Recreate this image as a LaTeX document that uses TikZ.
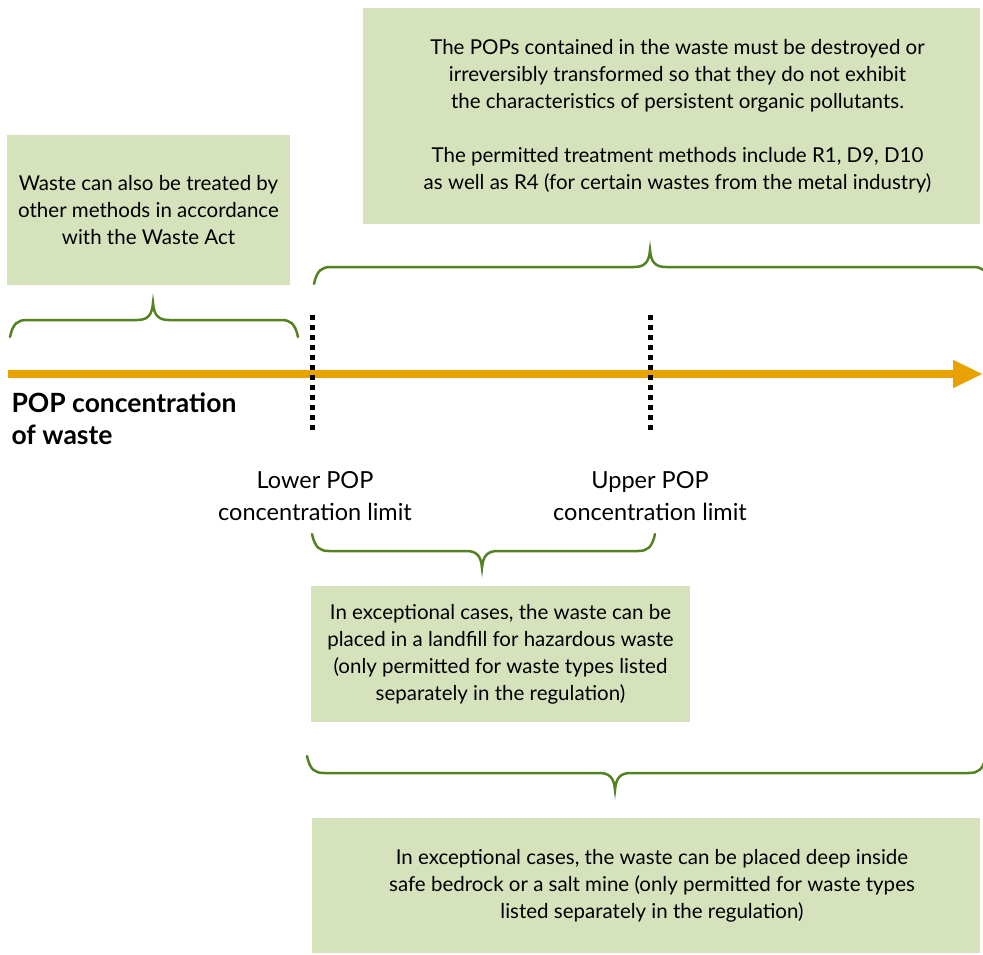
\documentclass[tikz,border=0pt]{standalone}
\usepackage{fontspec}
\setmainfont{Lato}
\usetikzlibrary{arrows.meta}

\definecolor{boxgreen}{RGB}{214,226,188}
\definecolor{bracegreen}{RGB}{84,130,35}
\definecolor{axisorange}{RGB}{232,162,0}

% curly bracket: left x, right x, tip x, end y, direction (-1 up, 1 down)
\newcommand{\popbrace}[5]{%
  \draw[curly] (#1,#4) .. controls ({#1+3},{#4+14*(#5)}) and ({#1+8},{#4+17*(#5)}) .. ({#1+17},{#4+17*(#5)})
    -- ({#3-16},{#4+17*(#5)}) .. controls ({#3-6},{#4+17*(#5)}) and ({#3-1},{#4+21*(#5)}) .. (#3,{#4+34*(#5)})
    .. controls ({#3+1},{#4+21*(#5)}) and ({#3+6},{#4+17*(#5)}) .. ({#3+16},{#4+17*(#5)})
    -- ({#2-17},{#4+17*(#5)}) .. controls ({#2-8},{#4+17*(#5)}) and ({#2-3},{#4+14*(#5)}) .. (#2,#4);}

\tikzset{
  infobox/.style={fill=boxgreen, inner sep=0pt, align=center, font=\fontsize{20.5}{27}\selectfont},
  infotext/.style={inner sep=0pt, align=center, font=\fontsize{20.5}{27}\selectfont},
  curly/.style={draw=bracegreen, line width=2.5pt, line cap=round},
  limitline/.style={line width=5pt, dash pattern=on 5pt off 5pt},
  limitlabel/.style={align=center, font=\fontsize{23.5}{32}\selectfont},
}

\begin{document}
\begin{tikzpicture}[x=1pt,y=-1pt]
\useasboundingbox (0,0) rectangle (983,955);
\clip (0,0) rectangle (983,955);

% Boxes with the treatment rules.
\node[infobox, minimum width=617pt, minimum height=216pt] (destroybox) at (671.5,116) {};
\node[infotext] (destroy) at ([xshift=6pt]destroybox.center)
  {The POPs contained in the waste must be destroyed or\\
   irreversibly transformed so that they do not exhibit\\
   the characteristics of persistent organic pollutants.\\[27pt]
   The permitted treatment methods include R1, D9, D10\\
   as well as R4 (for certain wastes from the metal industry)};
\node[infobox, minimum width=283pt, minimum height=150pt] (other) at (148.5,210)
  {Waste can also be treated by\\ other methods in accordance\\ with the Waste Act};
\node[infobox, minimum width=379pt, minimum height=136pt] (landfill) at (500.5,654)
  {In exceptional cases, the waste can be\\ placed in a landfill for hazardous waste\\
   (only permitted for waste types listed\\ separately in the regulation)};
\node[infobox, minimum width=668pt, minimum height=135pt] (bedrockbox) at (646,885.5) {};
\node[infotext] (bedrock) at ([xshift=6pt]bedrockbox.center)
  {In exceptional cases, the waste can be placed deep inside\\
   safe bedrock or a salt mine (only permitted for waste types\\
   listed separately in the regulation)};

% Concentration axis.
\coordinate (axstart) at (8,374);
\coordinate (axend) at (983,374);
\draw[line width=7.5pt, axisorange, -{Triangle[length=30pt,width=26pt]}] (axstart) -- (axend);
\node[anchor=base west, align=left, font=\fontsize{26.5}{32}\selectfont\bfseries] (axlabel) at (8,444)
  {POP concentration\\ of waste};

% Limits.
\coordinate (lowtop) at (312,315);
\coordinate (lowbot) at (312,432);
\coordinate (uptop) at (650,315);
\coordinate (upbot) at (650,432);
\draw[limitline] (lowtop) -- (lowbot);
\draw[limitline] (uptop) -- (upbot);
\node[limitlabel, anchor=base] (lower) at (315,520) {Lower POP\\ concentration limit};
\node[limitlabel, anchor=base] (upper) at (650,520) {Upper POP\\ concentration limit};

% Brackets.
\popbrace{10}{298}{153}{337}{-1}
\popbrace{314}{990}{650}{284}{-1}
\popbrace{312}{655}{482}{534}{1}
\popbrace{307}{986}{615}{756}{1}

\end{tikzpicture}
\end{document}
